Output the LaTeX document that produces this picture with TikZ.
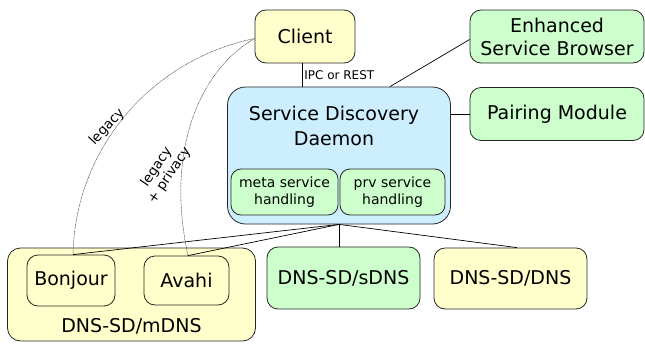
\documentclass[tikz,border=0pt]{standalone}
\usepackage{fontspec}
\setmainfont{DejaVu Sans}
\definecolor{boxyellow}{RGB}{255,255,204}
\definecolor{boxgreen}{RGB}{204,255,204}
\definecolor{boxblue}{RGB}{204,238,255}
\tikzset{
  box/.style={draw=black!85, line width=0.8pt, rounded corners=11pt, align=center, inner sep=0pt,
    font=\fontsize{19}{23}\selectfont},
  smallbox/.style={box, rounded corners=10pt, font=\fontsize{14}{17}\selectfont},
  conn/.style={draw=black, line width=0.7pt},
  dotconn/.style={draw=black!75, line width=0.5pt, dash pattern=on 0.8pt off 0.6pt},
  curvelabel/.style={font=\fontsize{13.5}{15.5}\selectfont, align=center, inner sep=1pt}
}
\begin{document}
\begin{tikzpicture}[x=1pt,y=-1pt]
\useasboundingbox (0,0) rectangle (645,343);
% top row
\node[box, fill=boxyellow, minimum width=100pt, minimum height=53pt] (client) at (305,36.5) {Client};
\node[box, fill=boxgreen, minimum width=174pt, minimum height=53pt] (esb) at (557,36.5) {Enhanced\\Service Browser};
\node[box, fill=boxgreen, minimum width=174pt, minimum height=53pt] (pair) at (557,114) {Pairing Module};
% daemon
\node[box, fill=boxblue, rounded corners=18pt, minimum width=223pt, minimum height=137pt] (sdd) at (339,155.5) {};
\node[align=center, inner sep=0pt, font=\fontsize{19}{25}\selectfont] (sddlabel) at (334,125.5) {Service Discovery\\Daemon};
\node[smallbox, fill=boxgreen, minimum width=107pt, minimum height=46pt] (meta) at (284.5,192) {meta service\\handling};
\node[smallbox, fill=boxgreen, minimum width=105pt, minimum height=46pt] (prv) at (392.5,192) {prv service\\handling};
% bottom row
\node[box, fill=boxyellow, rounded corners=13pt, minimum width=248pt, minimum height=93pt] (mdns) at (131.5,294.5) {};
\node[font=\fontsize{19}{23}\selectfont, inner sep=0pt] (mdnslabel) at (131.5,326) {DNS-SD/mDNS};
\node[box, fill=boxyellow, minimum width=88pt, minimum height=51pt] (bonjour) at (71,280.5) {Bonjour};
\node[box, fill=boxyellow, minimum width=85pt, minimum height=49pt] (avahi) at (186.5,280.5) {Avahi};
\node[box, fill=boxgreen, minimum width=153pt, minimum height=62pt] (sdns) at (343.5,278) {DNS-SD/sDNS};
\node[box, fill=boxyellow, minimum width=153pt, minimum height=61pt] (dns) at (510.5,278.5) {DNS-SD/DNS};
% connectors
\draw[conn] ([xshift=-3pt]client.south) -- node[right, inner sep=2pt, font=\fontsize{12}{14}\selectfont] (ipclabel) {IPC or REST} ([xshift=-3pt]client.south |- sdd.north);
\draw[conn] ([xshift=51pt]sdd.north) -- ([yshift=-3pt]esb.west);
\draw[conn] (sdd.east |- pair.west) -- (pair.west);
\draw[conn] (sdd.south) -- ([xshift=2pt]bonjour.north);
\draw[conn] (sdd.south) -- ([xshift=1.5pt]avahi.north);
\draw[conn] (sdd.south) -- (sdd.south |- sdns.north);
\draw[conn] (sdd.south) -- ([xshift=6.5pt]dns.north);
% dotted legacy links
\draw[dotconn] ([yshift=-2pt]client.west) .. controls (150,60) and (75,150) .. ([xshift=2pt]bonjour.north);
\draw[dotconn] ([yshift=-2pt]client.west) .. controls (200,70) and (165,150) .. ([xshift=1.5pt]avahi.north);
\node[curvelabel, rotate=47] (leglabel) at (107,127) {legacy};
\node[curvelabel, rotate=56] (legprivlabel) at (163,171) {legacy\\+ privacy};
\end{tikzpicture}
\end{document}
